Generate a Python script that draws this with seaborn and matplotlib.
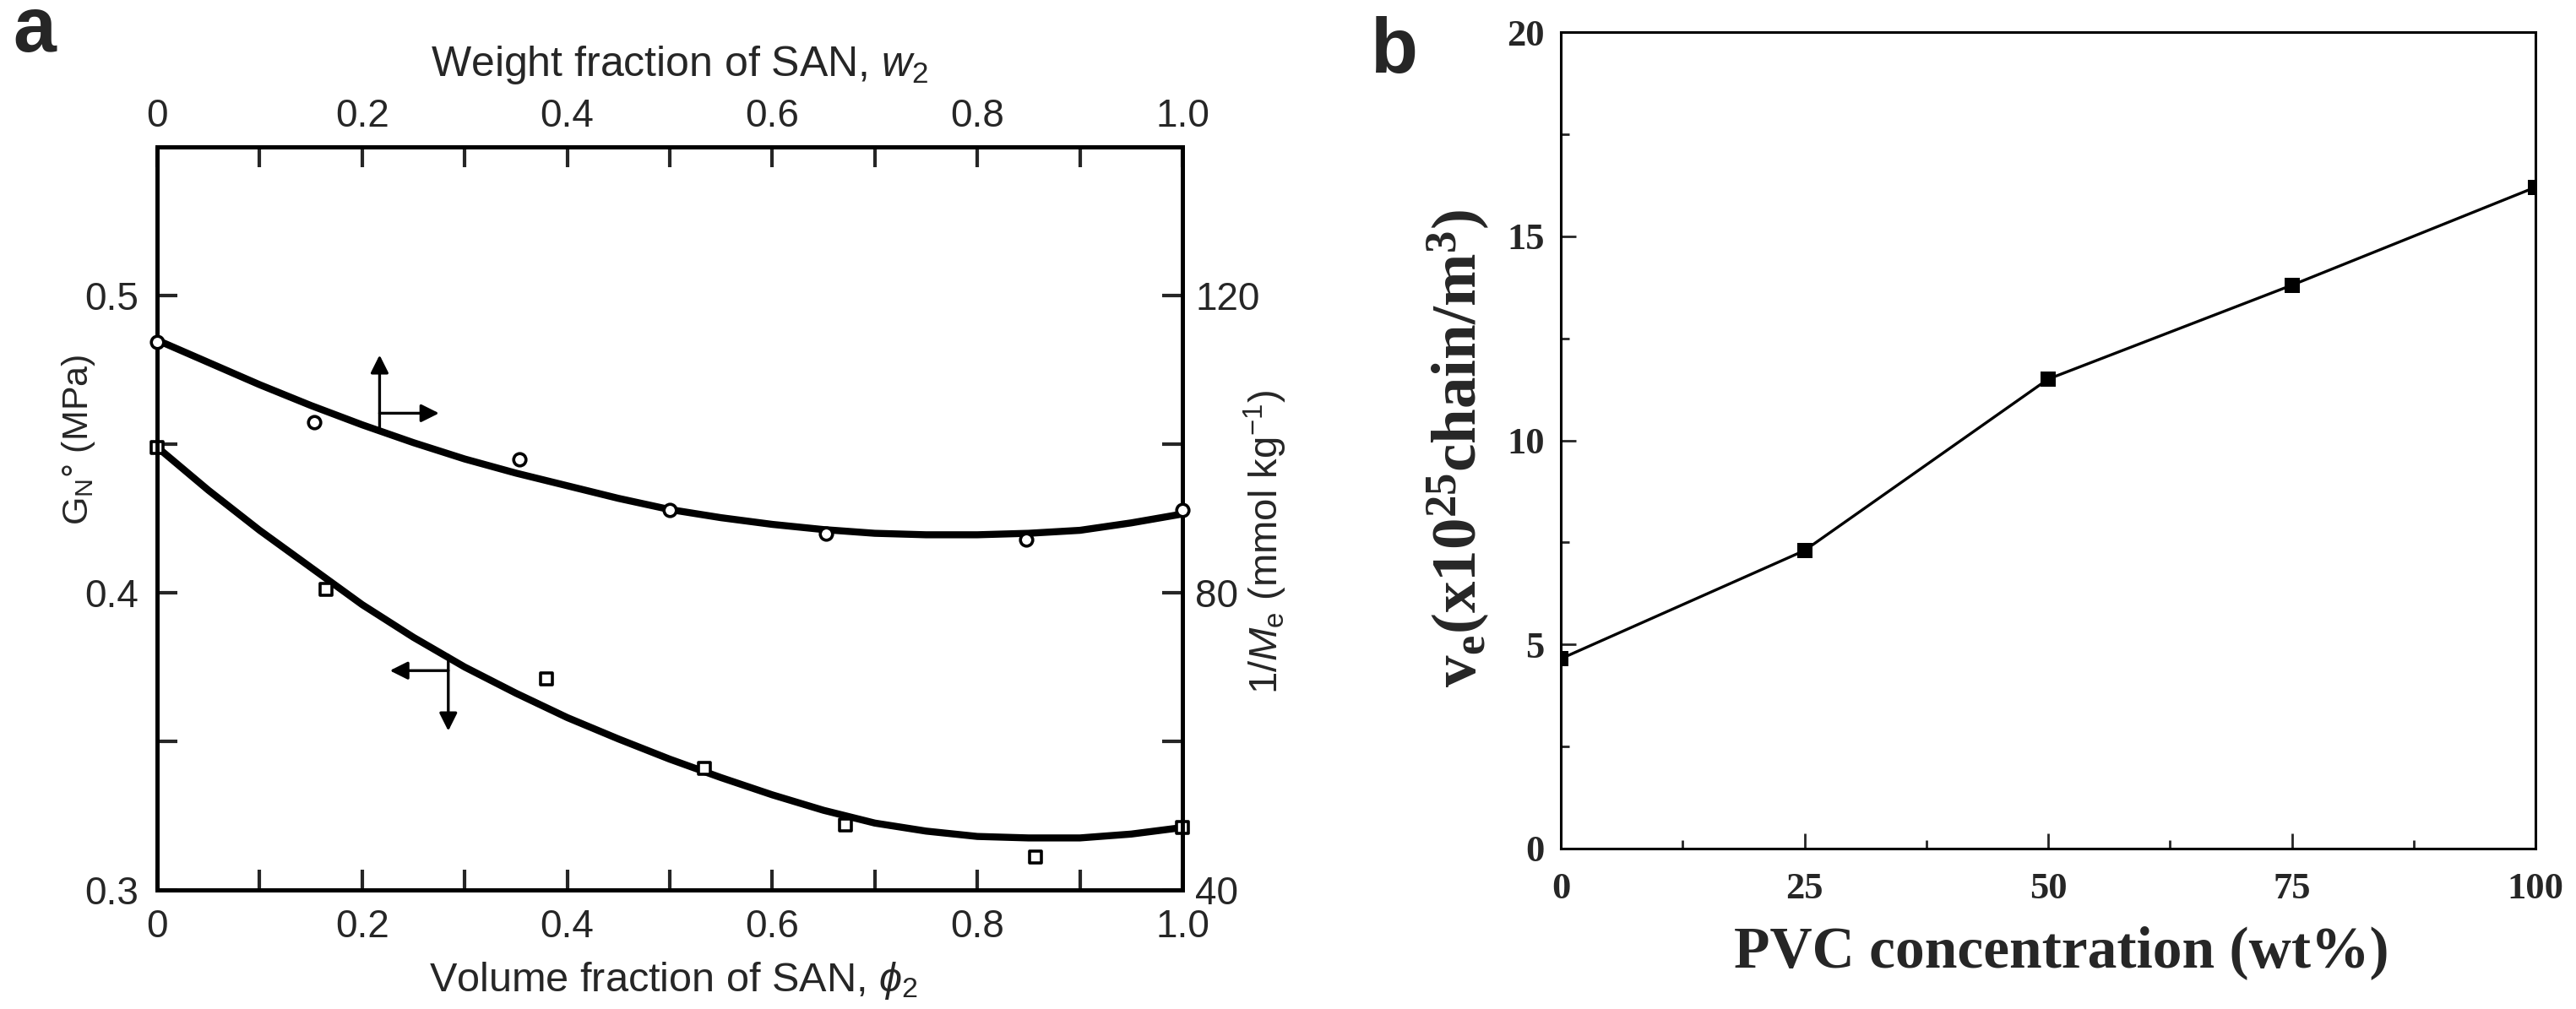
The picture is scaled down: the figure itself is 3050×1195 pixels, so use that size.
import matplotlib
matplotlib.use("Agg")
import matplotlib.pyplot as plt
import seaborn as sns

# ---- panel a : SAN blends ----
phi_sq = [0.0, 0.165, 0.38, 0.534, 0.671, 0.857, 1.0]          # volume fraction
gn_sq = [0.449, 0.401, 0.371, 0.341, 0.322, 0.311, 0.321]       # G_N (MPa)

w2_circ = [0.0, 0.153, 0.353, 0.5, 0.652, 0.848, 1.0]          # weight fraction
inv_me_circ = [113.8, 103.0, 98.0, 91.1, 88.0, 87.2, 91.1]     # 1/Me (mmol/kg)

# fitted curves, read every 0.05
fit_x = [0.0, 0.05, 0.1, 0.15, 0.2, 0.25, 0.3, 0.35, 0.4, 0.45, 0.5,
         0.55, 0.6, 0.65, 0.7, 0.75, 0.8, 0.85, 0.9, 0.95, 1.0]
gn_fit = [0.449, 0.4345, 0.421, 0.4085, 0.396, 0.385, 0.375, 0.3662, 0.358, 0.3508, 0.344,
          0.3378, 0.332, 0.3268, 0.3225, 0.3198, 0.318, 0.3175, 0.3175, 0.3188, 0.321]
inv_me_fit = [114.0, 111.0, 108.0, 105.2, 102.6, 100.2, 98.0, 96.1, 94.4, 92.7, 91.2,
              90.1, 89.2, 88.5, 88.0, 87.8, 87.8, 88.0, 88.4, 89.4, 90.6]

a_ticks = [0.0, 0.2, 0.4, 0.6, 0.8, 1.0]
a_tick_labels = ["0", "0.2", "0.4", "0.6", "0.8", "1.0"]
gn_ticks = [0.3, 0.35, 0.4, 0.45, 0.5]
gn_tick_labels = ["0.3", "", "0.4", "", "0.5"]
me_ticks = [40, 60, 80, 100, 120]
me_tick_labels = ["40", "", "80", "", "120"]

# ---- panel b : PVC blends ----
pvc = [0, 25, 50, 75, 100]
ve = [4.65, 7.3, 11.5, 13.8, 16.2]

sns.set_theme(style="ticks")
plt.rcParams["font.family"] = ["Liberation Sans", "DejaVu Sans"]
plt.rcParams["mathtext.fontset"] = "custom"
plt.rcParams["mathtext.rm"] = "Liberation Sans"
plt.rcParams["mathtext.sf"] = "Liberation Sans"
plt.rcParams["mathtext.it"] = "Liberation Sans:italic"
plt.rcParams["mathtext.bf"] = "Liberation Serif:bold"

W, H = 3050, 1195
fig = plt.figure(figsize=(W / 100, H / 100), dpi=100)

# ================= panel a =================
ax = fig.add_axes([186 / W, 1 - 1054 / H, (1400 - 186) / W, (1054 - 174) / H])
ax.set_xlim(0, 1)
ax.set_ylim(0.3, 0.55)
axr = ax.twinx()
axr.set_ylim(40, 140)

sns.lineplot(x=fit_x, y=gn_fit, ax=ax, color="black", linewidth=6)
sns.scatterplot(x=phi_sq, y=gn_sq, ax=ax, marker="s", s=110, color="white",
                edgecolor="black", linewidth=2.6, clip_on=False, zorder=5)
sns.lineplot(x=fit_x, y=inv_me_fit, ax=axr, color="black", linewidth=6)
sns.scatterplot(x=w2_circ, y=inv_me_circ, ax=axr, marker="o", s=110, color="white",
                edgecolor="black", linewidth=2.6, clip_on=False, zorder=5)

arrow = dict(arrowstyle="-|>", color="black", lw=2.4, mutation_scale=32,
             shrinkA=0, shrinkB=0)
ax.annotate("", xy=(0.217, 0.480), xytext=(0.217, 0.4556), arrowprops=arrow)
ax.annotate("", xy=(0.275, 0.4604), xytext=(0.217, 0.4604), arrowprops=arrow)
ax.annotate("", xy=(0.284, 0.3535), xytext=(0.284, 0.379), arrowprops=arrow)
ax.annotate("", xy=(0.227, 0.3738), xytext=(0.284, 0.3738), arrowprops=arrow)

ax.set_xticks(a_ticks, a_tick_labels)
ax.set_xticks([0.1, 0.3, 0.5, 0.7, 0.9], minor=True)
ax.set_yticks(gn_ticks, gn_tick_labels)
ax.tick_params(which="both", direction="in", length=17, width=3, labelsize=33,
               top=False, right=False)
ax.tick_params(axis="y", pad=16)
ax.tick_params(axis="x", pad=16)
axr.set_yticks(me_ticks, me_tick_labels)
axr.tick_params(axis="y", direction="in", length=17, width=3, labelsize=33, pad=11)

sec = ax.secondary_xaxis("top")
sec.set_xticks(a_ticks, a_tick_labels)
sec.set_xticks([0.1, 0.3, 0.5, 0.7, 0.9], minor=True)
sec.tick_params(which="both", direction="in", length=17, width=3, labelsize=33, pad=10)

for a in (ax, axr):
    for sp in a.spines.values():
        sp.set_linewidth(3.5)
        sp.set_color("black")
for sp in sec.spines.values():
    sp.set_linewidth(3.5)

ax.set_xlabel("Volume fraction of SAN, $\\phi_2$", fontsize=35)
ax.xaxis.set_label_coords(0.5035, -0.094, transform=ax.transAxes)
sec.set_xlabel("Weight fraction of SAN, $w_2$", fontsize=36)
sec.xaxis.set_label_coords(0.51, 1.095, transform=ax.transAxes)
ax.set_ylabel("G$_\\mathrm{N}$° (MPa)", fontsize=31)
ax.yaxis.set_label_coords(-0.0585, 0.606, transform=ax.transAxes)
axr.set_ylabel("1/$M_\\mathrm{e}$ (mmol kg$^{-1}$)", fontsize=34)
axr.yaxis.set_label_coords(1.058, 0.468, transform=ax.transAxes)

# ================= panel b =================
bx = fig.add_axes([1848 / W, 1 - 1005 / H, (3002 - 1848) / W, (1005 - 38) / H])
sns.lineplot(x=pvc, y=ve, ax=bx, color="black", linewidth=2.4, marker="s",
             markersize=13, markeredgewidth=0)
bx.set_xlim(0, 100)
bx.set_ylim(0, 20)
bx.set_xticks([0, 25, 50, 75, 100])
bx.set_xticks([12.5, 37.5, 62.5, 87.5], minor=True)
bx.set_yticks([0, 5, 10, 15, 20])
bx.set_yticks([2.5, 7.5, 12.5, 17.5], minor=True)
bx.tick_params(which="major", direction="in", length=13, width=2)
bx.tick_params(which="minor", direction="in", length=7, width=2)
bx.tick_params(axis="x", pad=20)
bx.tick_params(axis="y", pad=14)
for lab in bx.get_xticklabels() + bx.get_yticklabels():
    lab.set_fontfamily("Liberation Serif")
    lab.set_fontweight("bold")
    lab.set_fontsize(32)
for sp in bx.spines.values():
    sp.set_linewidth(2.2)
    sp.set_color("black")

bx.set_xlabel("PVC concentration (wt%)", fontsize=50, fontfamily="Liberation Serif",
              fontweight="bold")
bx.xaxis.set_label_coords(0.514, -0.094, transform=bx.transAxes)
bx.set_ylabel("$\\mathbf{v_e(x10^{25}chain/m^3)}$", fontsize=54)
bx.yaxis.set_label_coords(-0.071, 0.49, transform=bx.transAxes)

# panel letters
fig.text(15 / W, 1 - 61 / H, "a", fontsize=66, fontweight="bold", va="baseline", ha="left")
fig.text(1623 / W, 1 - 86 / H, "b", fontsize=66, fontweight="bold", va="baseline", ha="left")

fig.savefig("out.png", dpi=100)
